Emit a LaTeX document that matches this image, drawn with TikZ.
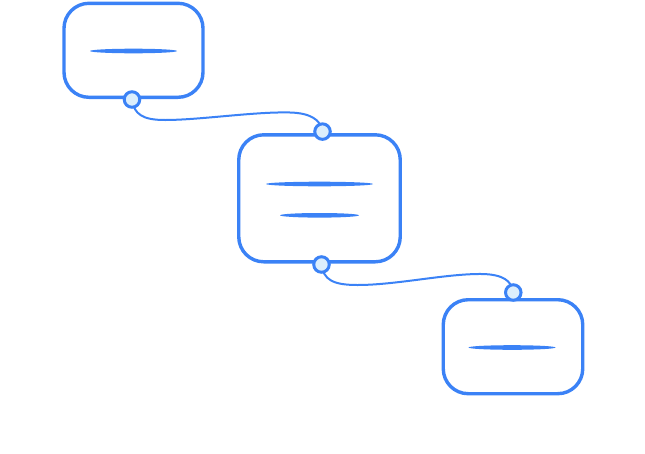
\documentclass[tikz,border=0pt]{standalone}
\usetikzlibrary{calc,shapes.geometric,backgrounds}
\definecolor{sk}{HTML}{3B82F6}
\definecolor{hfill}{HTML}{DCEEFC}
\tikzset{
  box/.style={draw=sk, line width=3.4pt, rounded corners=25pt, fill=white, inner sep=0pt},
  handle/.style={circle, draw=sk, line width=3pt, fill=hfill, minimum size=15.5pt, inner sep=0pt},
  bar/.style={ellipse, fill=sk, minimum height=4.6pt, inner sep=0pt},
  link/.style={draw=sk, line width=2pt, line cap=round}
}
\begin{document}
\begin{tikzpicture}[x=1pt,y=-1pt]
\useasboundingbox (0,0) rectangle (645,453);
% boxes
\node[box, minimum width=139pt, minimum height=94pt] (b1) at (133.5,50.3) {};
\node[box, minimum width=161.5pt, minimum height=127pt] (b2) at (319.5,198.3) {};
\node[box, minimum width=139.5pt, minimum height=94pt] (b3) at (513,346.7) {};
% placeholder strokes
\node[bar, minimum width=87pt] (t1) at (133.5,51) {};
\node[bar, minimum width=107pt] (t2) at (319.5,184) {};
\node[bar, minimum width=79pt] (t3) at (319.5,215.3) {};
\node[bar, minimum width=87pt] (t4) at (512,347.5) {};
% handles
\node[handle] (h1) at ($(b1.south)+(-1.5,0.5)$) {};
\node[handle] (h2) at ($(b2.north)+(3,-1.5)$) {};
\node[handle] (h3) at ($(b2.south)+(2,1)$) {};
\node[handle] (h4) at ($(b3.north)+(0.3,-5.5)$) {};
% connectors
\begin{scope}[on background layer]
\draw[link] (h1.center) .. controls ($(h1)+(2,15)$) and ($(h1)+(11,20.5)$) ..
  ($(h1)+(33,20.5)$) .. controls ($(h1)+(68,20.5)$) and ($(h1)+(123,12)$) ..
  ($(h1)+(158,13)$) .. controls ($(h1)+(178,13.5)$) and ($(h2)+(-1.5,-12)$) .. (h2.center);
\draw[link] (h3.center) .. controls ($(h3)+(2,15)$) and ($(h3)+(11,20.5)$) ..
  ($(h3)+(36,20.5)$) .. controls ($(h3)+(75,20.5)$) and ($(h3)+(125,9)$) ..
  ($(h3)+(161,9.5)$) .. controls ($(h3)+(181,10)$) and ($(h4)+(-1.5,-12)$) .. (h4.center);
\end{scope}
\end{tikzpicture}
\end{document}
